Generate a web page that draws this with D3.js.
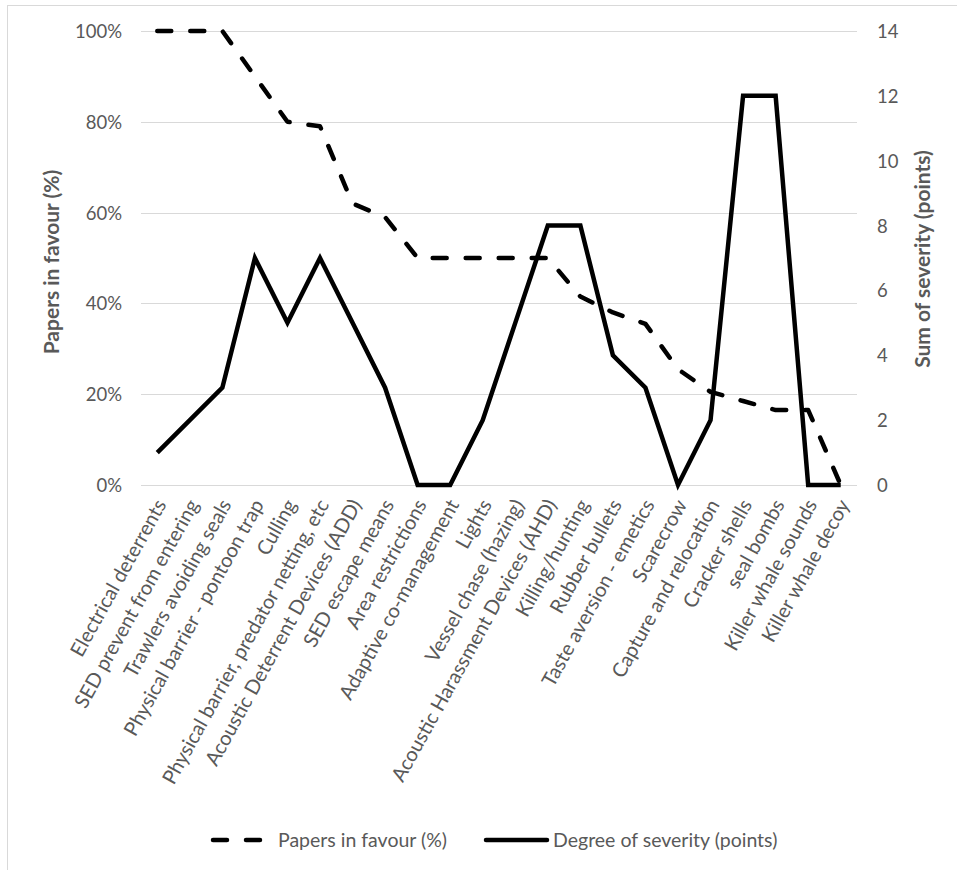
<!DOCTYPE html>
<html><head><meta charset="utf-8">
<script src="https://cdn.jsdelivr.net/npm/d3@7"></script>
<style>
body{margin:0;background:#fff;}
text{font-family:Lato,"Open Sans",sans-serif;}
</style></head>
<body><svg id="chart" width="957" height="870"></svg>
<script>
const categories = ["Electrical deterrents","SED prevent from entering","Trawlers avoiding seals","Physical barrier - pontoon trap","Culling","Physical barrier, predator netting, etc","Acoustic Deterrent Devices (ADD)","SED escape means","Area restrictions","Adaptive co-management","Lights","Vessel chase (hazing)","Acoustic Harassment Devices (AHD)","Killing/hunting","Rubber bullets","Taste aversion - emetics","Scarecrow","Capture and relocation","Cracker shells","seal bombs","Killer whale sounds","Killer whale decoy"];
const papersInFavour = [100,100,100,90,80,79,62,59,50,50,50,50,50,41.5,38,35.5,25.5,20.5,18.5,16.5,16.5,0];
const severity = [1,2,3,7,5,7,5,3,0,0,2,5,8,8,4,3,0,2,12,12,0,0];
const leftTicks = [0,20,40,60,80,100];
const rightTicks = [0,2,4,6,8,10,12,14];
const seriesNames = ["Papers in favour (%)","Degree of severity (points)"];

const svg = d3.select("#chart");
const m = {left:141, right:857, top:31, bottom:485};
const grey = "#595959";

svg.append("rect").attr("x",7.5).attr("y",5.5).attr("width",1000).attr("height",1000)
  .attr("fill","none").attr("stroke","#d9d9d9").attr("stroke-width",1);

const x = d3.scalePoint().domain(categories).range([m.left, m.right]).padding(0.5);
const yL = d3.scaleLinear().domain([0,100]).range([m.bottom, m.top]);
const yR = d3.scaleLinear().domain([0,14]).range([m.bottom, m.top]);

// gridlines
svg.append("g").selectAll("line").data(leftTicks).join("line")
  .attr("x1",m.left).attr("x2",m.right)
  .attr("y1",d=>Math.round(yL(d))+0.5).attr("y2",d=>Math.round(yL(d))+0.5)
  .attr("stroke","#d9d9d9").attr("stroke-width",1.2);

// left axis
const gl = svg.append("g").attr("transform",`translate(${m.left-19},0)`)
  .call(d3.axisLeft(yL).tickValues(leftTicks).tickFormat(d=>d+"%").tickSize(0).tickPadding(0));
gl.select(".domain").remove();
gl.selectAll("text").attr("fill",grey).style("font-size","18.5px").attr("dy","0.35em");

// right axis
const gr = svg.append("g").attr("transform",`translate(${m.right+20},0)`)
  .call(d3.axisRight(yR).tickValues(rightTicks).tickSize(0).tickPadding(0));
gr.select(".domain").remove();
gr.selectAll("text").attr("fill",grey).style("font-size","18.5px").attr("dy","0.35em");

// category labels
const gx = svg.append("g").attr("transform",`translate(0,${m.bottom})`)
  .call(d3.axisBottom(x).tickSize(0).tickPadding(0));
gx.select(".domain").remove();
gx.selectAll("text")
  .attr("fill",grey).style("font-size","20px")
  .attr("text-anchor","end")
  .attr("x",0).attr("y",0).attr("dy","0.35em")
  .attr("transform","translate(3,16) rotate(-61)");

// axis titles
svg.append("text").attr("transform",`translate(59,262) rotate(-90)`)
  .attr("text-anchor","middle").attr("fill",grey).style("font-size","21px").style("font-weight","bold")
  .text("Papers in favour (%)");
svg.append("text").attr("transform",`translate(930,259) rotate(-90)`)
  .attr("text-anchor","middle").attr("fill",grey).style("font-size","21px").style("font-weight","bold")
  .text("Sum of severity (points)");

// lines
const lineL = d3.line().x((d,i)=>x(categories[i])).y(d=>yL(d));
const lineR = d3.line().x((d,i)=>x(categories[i])).y(d=>yR(d));
svg.append("path").datum(papersInFavour).attr("d",lineL)
  .attr("fill","none").attr("stroke","#000").attr("stroke-width",4.5)
  .attr("stroke-dasharray","14,19").attr("stroke-linecap","round").attr("stroke-linejoin","round");
svg.append("path").datum(severity).attr("d",lineR)
  .attr("fill","none").attr("stroke","#000").attr("stroke-width",4.5)
  .attr("stroke-linejoin","miter");

// legend
const ly = 840;
const leg = svg.append("g");
leg.append("line").attr("x1",213).attr("x2",272).attr("y1",ly).attr("y2",ly)
  .attr("stroke","#000").attr("stroke-width",4.5).attr("stroke-dasharray","14,19").attr("stroke-linecap","round");
leg.append("text").attr("x",278).attr("y",ly).attr("dy","0.35em").attr("fill",grey).style("font-size","19.5px").text(seriesNames[0]);
leg.append("line").attr("x1",486).attr("x2",547).attr("y1",ly).attr("y2",ly)
  .attr("stroke","#000").attr("stroke-width",4.5).attr("stroke-linecap","round");
leg.append("text").attr("x",553).attr("y",ly).attr("dy","0.35em").attr("fill",grey).style("font-size","19.5px").text(seriesNames[1]);
</script></body></html>
